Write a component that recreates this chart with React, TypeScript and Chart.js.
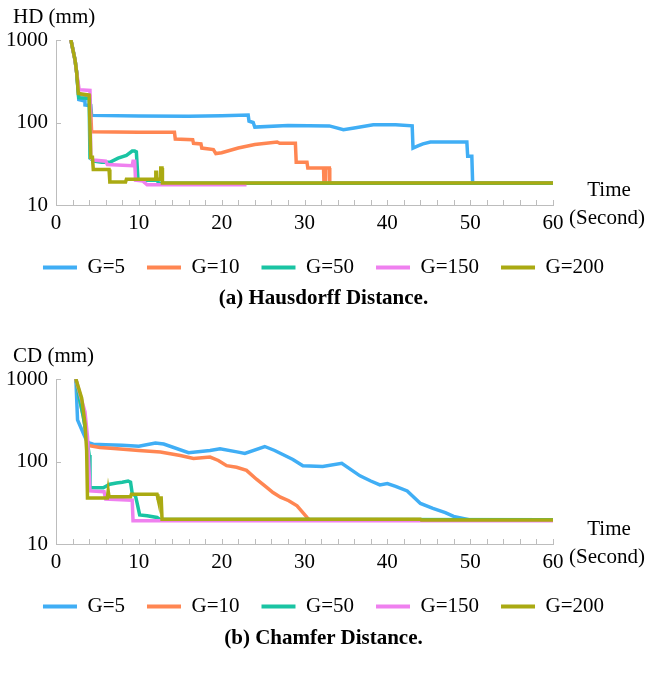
import React, { useEffect, useRef } from 'react';
import { Chart, registerables } from 'chart.js';

Chart.register(...registerables);

const seriesLabels = ['G=5', 'G=10', 'G=50', 'G=150', 'G=200'];
const seriesColors = ['rgb(64,174,245)', 'rgb(255,134,82)', 'rgb(26,196,163)', 'rgb(239,128,239)', 'rgb(170,170,18)'];
const seriesOrder = [4, 3, 2, 1, 0];
const yTickValues = [10, 100, 1000];
const xMin = 0;
const xMax = 60;
const xStep = 2;
const xLabelEvery = 10;

// (a) Hausdorff distance
const hdG5T = [1.8, 2.3, 2.5, 2.75, 3.5, 3.5, 4.2, 4.3, 10, 16, 20, 23.2, 23.3, 23.8, 24, 28, 33, 34.7, 36, 38.3, 41, 43, 43.1, 43.7, 44.3, 45.2, 49.6, 49.7, 50.2, 50.3, 60];
const hdG5V = [1000, 570, 400, 190, 182, 163, 160, 122, 120, 119, 121, 123, 104, 100, 88, 92, 91, 82, 86, 94, 94, 91, 49, 52, 55, 58, 58, 39, 39, 18.4, 18.4];
const hdG10T = [1.8, 2.3, 2.5, 2.75, 4.1, 4.3, 10, 14.3, 14.4, 16.5, 16.6, 17.5, 17.6, 19, 19.3, 20, 22, 24, 26.7, 27, 28.9, 29, 30.3, 30.4, 32.3, 32.35, 32.5, 32.55, 33, 33.05, 60];
const hdG10V = [1000, 570, 400, 220, 210, 77, 76, 76, 63, 62, 56, 55, 49, 47, 42, 43, 49, 54, 58, 56, 56, 33, 33, 28, 28, 18.5, 18.5, 28, 28, 18.4, 18.4];
const hdG50T = [1.8, 2.3, 2.5, 2.75, 4.0, 4.1, 4.6, 5.5, 6.5, 7.5, 8.5, 9.2, 9.5, 9.7, 9.9, 12.2, 12.4, 60];
const hdG50V = [1000, 570, 400, 200, 195, 37, 34, 33, 33, 37, 40, 45, 45, 44, 20, 20, 18.4, 18.4];
const hdG150T = [1.8, 2.3, 2.5, 2.8, 4.1, 4.2, 4.5, 6, 6.2, 9.2, 9.3, 9.5, 9.6, 10.5, 11, 23];
const hdG150V = [1000, 570, 400, 250, 245, 37, 35, 34, 31, 30, 34, 34, 20, 19.5, 17.6, 17.6];
const hdG200T = [1.8, 2.3, 2.5, 2.7, 4.0, 4.2, 4.4, 4.5, 6.4, 6.5, 8.4, 8.5, 12.0, 12.05, 12.15, 12.2, 12.6, 12.65, 12.8, 12.85, 60];
const hdG200V = [1000, 570, 400, 225, 215, 38, 38, 27, 27, 19, 19, 20.5, 20.5, 25, 25, 20.5, 20.5, 28, 28, 18.5, 18.5];

// (b) Chamfer distance
const cdG5T = [2.4, 2.6, 3.3, 3.8, 4.5, 6, 8, 10, 12, 13, 16, 18.6, 19.8, 22, 22.8, 25.2, 26.4, 28.6, 29.8, 32.2, 34.5, 36.7, 38, 39.1, 40, 41, 42.4, 44, 45.5, 47, 48, 50, 60];
const cdG5V = [1000, 320, 220, 170, 162, 160, 157, 153, 168, 163, 128, 136, 143, 130, 125, 152, 136, 106, 89, 87, 95, 67, 58, 52, 54, 50, 44, 31, 27, 24, 21.6, 19.6, 19.5];
const cdG10T = [2.4, 2.8, 3.3, 3.7, 3.9, 5.3, 7, 10, 12.6, 15, 16.6, 18.6, 19.6, 20.6, 21.8, 23, 24.2, 25.4, 26.2, 27.1, 28.1, 29.1, 30.3, 30.6, 60];
const cdG10V = [1000, 600, 350, 200, 156, 148, 144, 136, 130, 118, 109, 113, 103, 89, 85, 78, 61, 49, 42, 37, 33.5, 29, 21, 19.6, 19.5];
const cdG50T = [2.4, 2.8, 3.3, 3.7, 4.0, 4.1, 5.7, 6.5, 7.3, 8.0, 8.7, 9.0, 9.2, 9.6, 9.8, 10.1, 11, 12.2, 12.5, 60];
const cdG50V = [1000, 600, 350, 200, 120, 48, 48, 53, 55, 56, 58, 56, 41, 38, 31, 22.5, 22, 21, 20, 19.7];
const cdG150T = [2.4, 3.0, 3.5, 3.8, 4.1, 5.8, 6.0, 9.2, 9.3, 60];
const cdG150V = [1000, 600, 400, 200, 44, 43, 35, 34, 19.2, 19.2];
const cdG200T = [2.4, 3.1, 3.5, 3.7, 3.8, 6.2, 6.3, 6.4, 9.0, 9.1, 12.2, 12.3, 12.7, 12.8, 44, 44.1, 60];
const cdG200V = [1000, 585, 290, 135, 36, 36, 44, 37.5, 37.5, 40, 40, 36, 36, 20, 20, 19.5, 19.5];

const hdSeries = [[hdG5T, hdG5V], [hdG10T, hdG10V], [hdG50T, hdG50V], [hdG150T, hdG150V], [hdG200T, hdG200V]];
const cdSeries = [[cdG5T, cdG5V], [cdG10T, cdG10V], [cdG50T, cdG50V], [cdG150T, cdG150V], [cdG200T, cdG200V]];

const FONT = '"Liberation Serif", "Times New Roman", serif';
const AXIS_COLOR = '#bdbdbd';

const decorPlugin = {
  id: 'decor',
  afterDraw(chart: any, _args: any, opts: any) {
    const { ctx, chartArea, scales } = chart;
    const xs = scales.x;
    const ys = scales.y;
    ctx.save();
    ctx.strokeStyle = AXIS_COLOR;
    ctx.lineWidth = 1;
    ctx.beginPath();
    xs.ticks.forEach((t: any) => {
      const px = Math.round(xs.getPixelForValue(t.value)) + 0.5;
      ctx.moveTo(px, chartArea.bottom);
      ctx.lineTo(px, chartArea.bottom - 5);
    });
    ys.ticks.forEach((t: any) => {
      const py = Math.round(ys.getPixelForValue(t.value)) + 0.5;
      ctx.moveTo(chartArea.left, py);
      ctx.lineTo(chartArea.left + 5, py);
    });
    ctx.stroke();
    ctx.fillStyle = '#000';
    ctx.font = `21px ${FONT}`;
    ctx.textBaseline = 'middle';
    ctx.textAlign = 'left';
    ctx.fillText(opts.yTitle, 13, chartArea.top - 23);
    ctx.textAlign = 'center';
    ctx.fillText('Time', chartArea.right + 56, chartArea.bottom - 15);
    ctx.fillText('(Second)', chartArea.right + 54, chartArea.bottom + 13);
    ctx.restore();
  },
};

function makeConfig(series: number[][][], yTitle: string): any {
  const datasets = series.map(([ts, vs], i) => ({
    label: seriesLabels[i],
    data: ts.map((t, k) => ({ x: t, y: vs[k] })),
    borderColor: seriesColors[i],
    backgroundColor: seriesColors[i],
    borderWidth: 3.5,
    pointRadius: 0,
    tension: 0,
    fill: false,
    order: seriesOrder[i],
  }));
  const font = { family: FONT, size: 21 };
  return {
    type: 'line',
    data: { datasets },
    plugins: [decorPlugin],
    options: {
      animation: false,
      responsive: false,
      maintainAspectRatio: false,
      events: [],
      layout: { padding: { top: 40, left: 0, right: 0, bottom: 2 } },
      plugins: {
        decor: { yTitle },
        tooltip: { enabled: false },
        title: { display: false },
        legend: {
          display: true,
          position: 'bottom',
          labels: {
            font,
            color: '#000',
            boxWidth: 34,
            boxHeight: 4,
            padding: 22,
            generateLabels: () =>
              seriesLabels.map((text, i) => ({
                text,
                fillStyle: seriesColors[i],
                strokeStyle: seriesColors[i],
                lineWidth: 0,
                hidden: false,
                datasetIndex: i,
                fontColor: '#000',
              })),
          },
        },
      },
      scales: {
        x: {
          type: 'linear',
          min: xMin,
          max: xMax,
          ticks: {
            stepSize: xStep,
            autoSkip: false,
            maxRotation: 0,
            padding: 6,
            font,
            color: '#000',
            callback: (v: number) => (v % xLabelEvery === 0 ? String(v) : ''),
          },
          grid: { display: false, drawTicks: false },
          border: { display: true, color: AXIS_COLOR, width: 1 },
          afterFit: (s: any) => { s.height = 30; },
        },
        y: {
          type: 'logarithmic',
          min: yTickValues[0],
          max: yTickValues[yTickValues.length - 1],
          afterBuildTicks: (s: any) => { s.ticks = yTickValues.map((value) => ({ value })); },
          ticks: { padding: 8, font, color: '#000', autoSkip: false, callback: (v: number) => String(v) },
          grid: { display: false, drawTicks: false },
          border: { display: true, color: AXIS_COLOR, width: 1 },
          afterFit: (s: any) => { s.width = 56; },
        },
        yRight: {
          type: 'linear',
          position: 'right',
          display: true,
          grid: { display: false, drawTicks: false },
          border: { display: false },
          ticks: { display: false },
          afterFit: (s: any) => { s.width = 94; },
        },
      },
    },
  };
}

function ChartBox({ series, yTitle, top }: { series: number[][][]; yTitle: string; top: number }) {
  const ref = useRef<HTMLCanvasElement | null>(null);
  useEffect(() => {
    if (!ref.current) return;
    const chart = new Chart(ref.current, makeConfig(series, yTitle));
    return () => chart.destroy();
  }, [series, yTitle]);
  return (
    <div style={{ position: 'absolute', left: 0, top, width: 647, height: 290 }}>
      <canvas ref={ref} width={647} height={290} style={{ width: 647, height: 290, display: 'block' }} />
    </div>
  );
}

const captionStyle: React.CSSProperties = {
  position: 'absolute',
  left: 0,
  width: 647,
  textAlign: 'center',
  fontFamily: FONT,
  fontWeight: 'bold',
  fontSize: 21,
  lineHeight: '24px',
  color: '#000',
};

export default function App() {
  return (
    <div style={{ position: 'absolute', left: 0, top: 0, width: 647, height: 677, background: '#fff', overflow: 'hidden' }}>
      <ChartBox series={hdSeries} yTitle="HD (mm)" top={0} />
      <div style={{ ...captionStyle, top: 285 }}>(a) Hausdorff Distance.</div>
      <ChartBox series={cdSeries} yTitle="CD (mm)" top={339} />
      <div style={{ ...captionStyle, top: 625 }}>(b) Chamfer Distance.</div>
    </div>
  );
}
